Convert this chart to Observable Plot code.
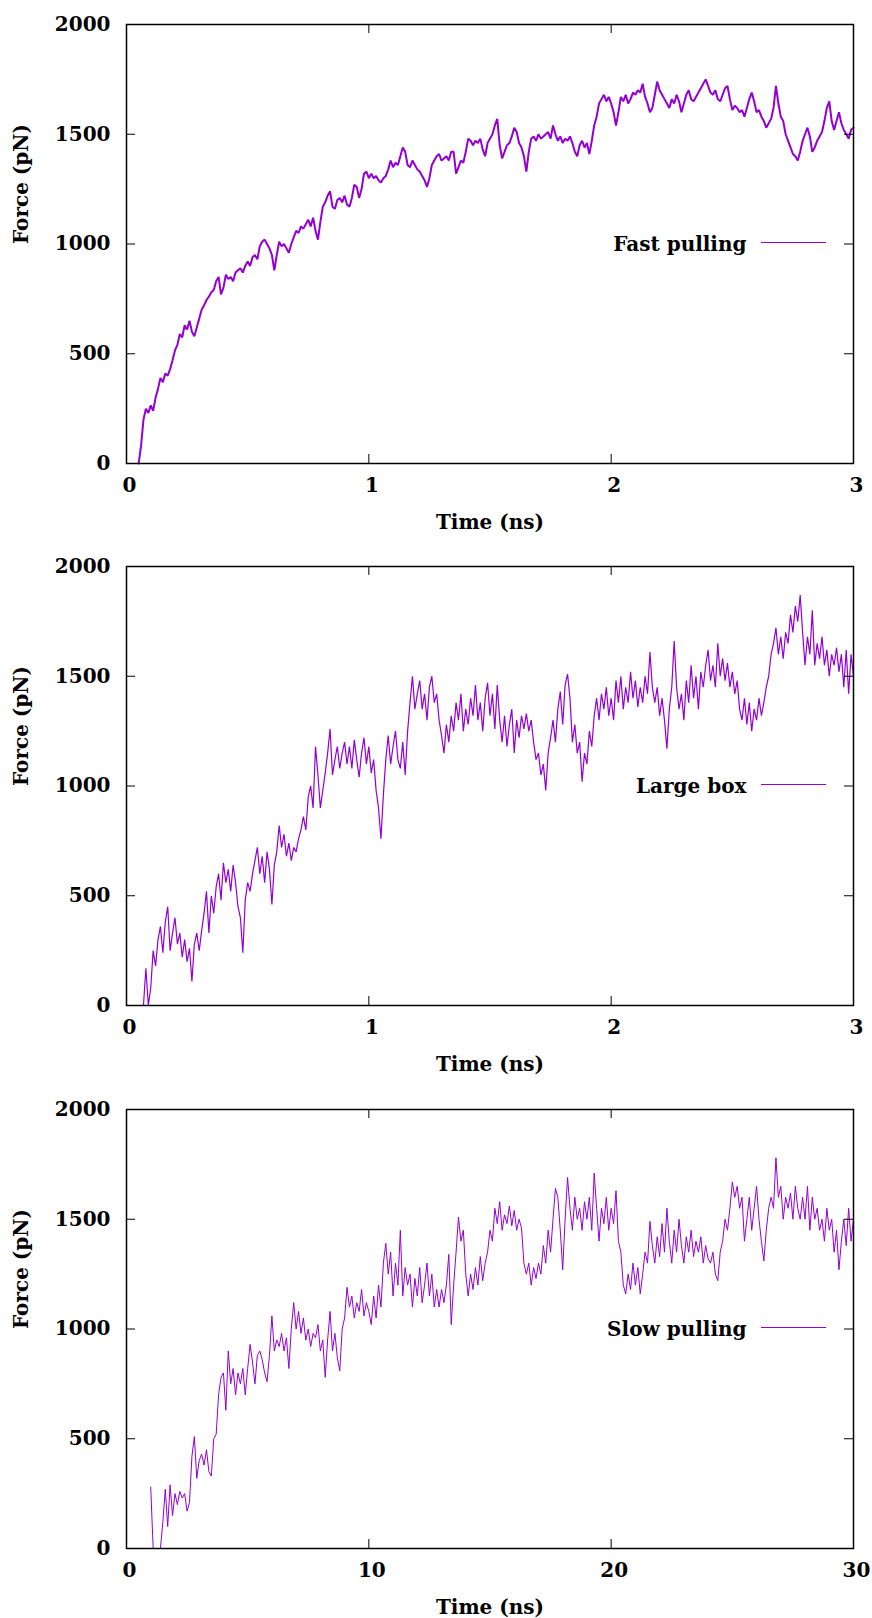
<!DOCTYPE html>
<html><head><meta charset="utf-8">
<script src="https://cdn.jsdelivr.net/npm/d3@7"></script>
<script src="https://cdn.jsdelivr.net/npm/@observablehq/plot@0.6"></script>
<style>
html,body{margin:0;padding:0;background:#fff}
body{width:872px;height:1618px;position:relative;overflow:hidden}
.panel{position:absolute;left:0}
</style></head><body>
<div id="p1" class="panel" style="top:0"></div>
<div id="p2" class="panel" style="top:542px"></div>
<div id="p3" class="panel" style="top:1085px"></div>
<script>
// ---- chart data ----
const yTicks = [0, 500, 1000, 1500, 2000];
const xTicksFast = [0, 1, 2, 3];
const xTicksSlow = [0, 10, 20, 30];
const xTitle = "Time (ns)";
const yTitle = "Force (pN)";
const seriesNames = ["Fast pulling", "Large box", "Slow pulling"];

// sampling of each series: first time (ns) and interval (ns)
const fastStart = 0.05, fastStep = 0.01;
const fastForce = [
  0, 80, 200, 250, 230, 265, 240, 300, 340, 390,
  370, 410, 400, 430, 470, 515, 540, 590, 575, 630,
  610, 650, 600, 580, 620, 660, 700, 720, 745, 760,
  780, 790, 830, 850, 770, 800, 860, 840, 850, 830,
  870, 880, 890, 870, 900, 920, 900, 940, 950, 930,
  990, 1010, 1020, 1000, 980, 950, 880, 950, 1010, 990,
  1000, 980, 960, 1000, 1030, 1060, 1050, 1080, 1070, 1090,
  1110, 1080, 1120, 1060, 1020, 1100, 1170, 1190, 1220, 1240,
  1170, 1160, 1200, 1210, 1190, 1220, 1180, 1170, 1210, 1270,
  1260, 1210, 1250, 1320, 1330, 1300, 1320, 1300, 1310, 1290,
  1280, 1300, 1310, 1340, 1380, 1350, 1370, 1360, 1400, 1440,
  1420, 1360, 1350, 1380, 1360, 1340, 1330, 1310, 1290, 1260,
  1300, 1360, 1380, 1400, 1410, 1380, 1390, 1400, 1380, 1420,
  1420, 1320, 1350, 1380, 1370, 1420, 1480, 1470, 1450, 1470,
  1460, 1480, 1430, 1400, 1460, 1480, 1500, 1540, 1570, 1450,
  1390, 1420, 1450, 1460, 1490, 1530, 1510, 1460, 1440, 1400,
  1330, 1420, 1480, 1490, 1470, 1500, 1480, 1490, 1500, 1510,
  1480, 1540, 1500, 1470, 1490, 1460, 1480, 1470, 1490, 1460,
  1420, 1400, 1450, 1470, 1440, 1460, 1410, 1470, 1540, 1580,
  1640, 1660, 1680, 1650, 1670, 1640, 1600, 1540, 1600, 1670,
  1650, 1680, 1640, 1660, 1690, 1680, 1700, 1690, 1730, 1670,
  1640, 1600, 1620, 1680, 1740, 1700, 1680, 1660, 1640, 1620,
  1660, 1640, 1680, 1650, 1600, 1640, 1680, 1700, 1660, 1650,
  1670, 1690, 1710, 1730, 1750, 1720, 1690, 1680, 1700, 1660,
  1650, 1680, 1710, 1720, 1660, 1610, 1630, 1620, 1600, 1610,
  1580, 1620, 1660, 1690, 1650, 1600, 1610, 1580, 1560, 1530,
  1550, 1570, 1620, 1720, 1640, 1580, 1560, 1500, 1470, 1440,
  1410, 1400, 1380, 1420, 1470, 1500, 1530, 1490, 1420, 1440,
  1470, 1490, 1510, 1560, 1620, 1650, 1560, 1520, 1560, 1600,
  1550, 1520, 1500, 1480, 1520, 1530
];

const largeStart = 0.05, largeStep = 0.01;
const largeForce = [
  0, 0, 0, 170, 0, 80, 250, 180, 300, 360,
  240, 380, 450, 250, 330, 400, 280, 330, 220, 300,
  200, 260, 110, 280, 330, 250, 340, 420, 520, 330,
  500, 420, 540, 600, 480, 650, 560, 620, 520, 640,
  560, 450, 400, 240, 480, 560, 520, 600, 660, 720,
  600, 680, 560, 700, 620, 460, 640, 700, 820, 720,
  780, 680, 740, 660, 720, 700, 760, 800, 860, 800,
  950, 1000, 900, 1180, 1050, 900, 980, 1060, 1150, 1260,
  1050, 1120, 1180, 1080, 1150, 1200, 1100, 1180, 1080, 1210,
  1120, 1040, 1150, 1220, 1100, 1180, 1060, 1120, 980, 900,
  760, 960, 1120, 1230, 1100, 1180, 1250, 1120, 1080, 1200,
  1050, 1250, 1380, 1500, 1350, 1420, 1480, 1350, 1420, 1300,
  1450, 1500, 1380, 1420, 1300, 1230, 1150, 1280, 1200, 1320,
  1250, 1380, 1300, 1420, 1250, 1350, 1280, 1400, 1320, 1460,
  1300, 1380, 1250, 1400, 1470, 1320, 1420, 1260, 1460, 1300,
  1200, 1320, 1180, 1280, 1350, 1150, 1300, 1220, 1320, 1260,
  1330, 1250, 1300, 1200, 1120, 1150, 1050, 1100, 980, 1150,
  1220, 1300, 1200, 1350, 1430, 1280, 1460, 1510, 1400, 1200,
  1280, 1150, 1200, 1020, 1150, 1100, 1250, 1180, 1320, 1400,
  1300, 1420, 1350, 1450, 1320, 1400, 1300, 1480, 1380, 1500,
  1350, 1450, 1380, 1520, 1400, 1480, 1360, 1450, 1380, 1500,
  1420, 1610, 1450, 1380, 1450, 1320, 1400, 1300, 1170, 1350,
  1450, 1660, 1450, 1350, 1420, 1300, 1480, 1380, 1550, 1400,
  1500, 1350, 1520, 1450, 1550, 1620, 1480, 1550, 1450, 1650,
  1500, 1580, 1480, 1560, 1450, 1520, 1420, 1480, 1350, 1300,
  1400, 1280, 1380, 1250, 1350, 1300, 1400, 1320, 1380, 1450,
  1500, 1600, 1650, 1720, 1600, 1680, 1580, 1700, 1650, 1780,
  1700, 1820, 1750, 1870, 1700, 1550, 1680, 1600, 1800, 1550,
  1650, 1580, 1680, 1550, 1620, 1500, 1600, 1550, 1630, 1520,
  1600, 1450, 1620, 1420, 1600, 1500
];

const slowStart = 1.0, slowStep = 0.1;
const slowForce = [
  280, 0, 0, 0, 0, 120, 270, 100, 290, 150,
  250, 200, 260, 230, 250, 170, 210, 420, 510, 320,
  400, 430, 380, 450, 350, 330, 500, 520, 700, 780,
  800, 630, 900, 750, 820, 700, 800, 750, 820, 700,
  820, 930, 850, 750, 880, 900, 860, 800, 760, 880,
  1060, 900, 950, 920, 980, 900, 960, 820, 1000, 1120,
  1000, 1080, 980, 1050, 950, 1000, 920, 980, 960, 1020,
  900, 950, 780, 950, 1080, 900, 980, 870, 810, 1000,
  1050, 1190, 1100, 1150, 1050, 1120, 1080, 1180, 1060, 1120,
  1080, 1020, 1150, 1050, 1200, 1100, 1300, 1390, 1250, 1350,
  1150, 1300, 1200, 1450, 1150, 1280, 1200, 1250, 1100, 1230,
  1150, 1280, 1120, 1200, 1300, 1150, 1250, 1100, 1180, 1100,
  1180, 1120, 1200, 1340, 1020, 1200, 1350, 1510, 1400, 1450,
  1250, 1150, 1250, 1180, 1280, 1200, 1330, 1220, 1300, 1350,
  1450, 1400, 1550, 1480, 1580, 1450, 1520, 1480, 1560, 1470,
  1540, 1450, 1500, 1460, 1300, 1250, 1300, 1200, 1280, 1230,
  1300, 1250, 1380, 1300, 1450, 1350, 1500, 1640, 1600, 1450,
  1270, 1500, 1690, 1550, 1450, 1600, 1500, 1550, 1450, 1580,
  1500, 1600, 1450, 1710, 1550, 1400, 1550, 1480, 1600, 1450,
  1550, 1480, 1630, 1400, 1350, 1200, 1160, 1250, 1180, 1300,
  1200, 1280, 1160, 1250, 1350, 1300, 1490, 1380, 1300, 1420,
  1330, 1480, 1350, 1550, 1400, 1300, 1450, 1350, 1500, 1380,
  1300, 1420, 1350, 1450, 1330, 1400, 1350, 1420, 1300, 1380,
  1320, 1300, 1350, 1250, 1220, 1350, 1400, 1500, 1450, 1550,
  1670, 1600, 1650, 1550, 1600, 1400, 1500, 1600, 1450, 1550,
  1650, 1500, 1400, 1310, 1450, 1550, 1600, 1550, 1780, 1600,
  1650, 1500, 1600, 1550, 1620, 1500, 1650, 1550, 1500, 1600,
  1500, 1650, 1450, 1600, 1500, 1550, 1450, 1500, 1400, 1550,
  1450, 1500, 1350, 1450, 1270, 1400, 1500, 1380, 1550, 1400,
  1500
];

// ---- drawing ----
const W = 872, ML = 126, MR = 19, MT = 24, PH = 439;
const LINE_COLOR = "#9400d3";

function legendLine(index, scales, values, dims) {
  const y = dims.marginTop + (dims.height - dims.marginTop - dims.marginBottom) / 2 - 1;
  const x2 = dims.width - dims.marginRight - 27;
  const el = document.createElementNS("http://www.w3.org/2000/svg", "line");
  el.setAttribute("x1", x2 - 65);
  el.setAttribute("x2", x2);
  el.setAttribute("y1", y);
  el.setAttribute("y2", y);
  el.setAttribute("stroke", LINE_COLOR);
  el.setAttribute("stroke-width", 1);
  return el;
}

function panel(start, step, values, name, xDomain, xTicks, height, lineWidth) {
  const data = values.map((v, i) => ({t: start + i * step, f: v}));
  const innerW = W - ML - MR;
  return Plot.plot({
    width: W, height,
    marginLeft: ML, marginRight: MR, marginTop: MT, marginBottom: height - MT - PH,
    style: {fontFamily: "'DejaVu Serif', serif", fontWeight: "bold", fontSize: "20px", color: "#000", background: "#fff"},
    x: {domain: xDomain, label: null},
    y: {domain: [0, 2000], label: null},
    marks: [
      Plot.lineY(data, {x: "t", y: "f", stroke: LINE_COLOR, strokeWidth: lineWidth, strokeLinejoin: "miter"}),
      Plot.tickY(yTicks, {y: d => d, insetRight: innerW - 9, stroke: "#000"}),
      Plot.tickY(yTicks, {y: d => d, insetLeft: innerW - 9, stroke: "#000"}),
      Plot.tickX(xTicks, {x: d => d, insetTop: PH - 9, stroke: "#000"}),
      Plot.tickX(xTicks, {x: d => d, insetBottom: PH - 9, stroke: "#000"}),
      Plot.axisY(yTicks, {tickSize: 0, tickPadding: 16, tickFormat: d => String(d), label: null}),
      Plot.axisX(xTicks, {tickSize: 0, tickPadding: 14, dx: 3, tickFormat: d => String(d), label: null}),
      Plot.frame({stroke: "#000", strokeWidth: 1.5}),
      Plot.text([xTitle], {frameAnchor: "bottom", dy: 65}),
      Plot.text([yTitle], {frameAnchor: "left", dx: -105, rotate: -90}),
      Plot.text([name], {frameAnchor: "right", dx: -107, dy: 1, textAnchor: "end"}),
      legendLine
    ]
  });
}

document.getElementById("p1").append(panel(fastStart, fastStep, fastForce, seriesNames[0], [0, 3], xTicksFast, 542, 2));
document.getElementById("p2").append(panel(largeStart, largeStep, largeForce, seriesNames[1], [0, 3], xTicksFast, 543, 1.2));
document.getElementById("p3").append(panel(slowStart, slowStep, slowForce, seriesNames[2], [0, 30], xTicksSlow, 533, 1));
</script>
</body></html>
